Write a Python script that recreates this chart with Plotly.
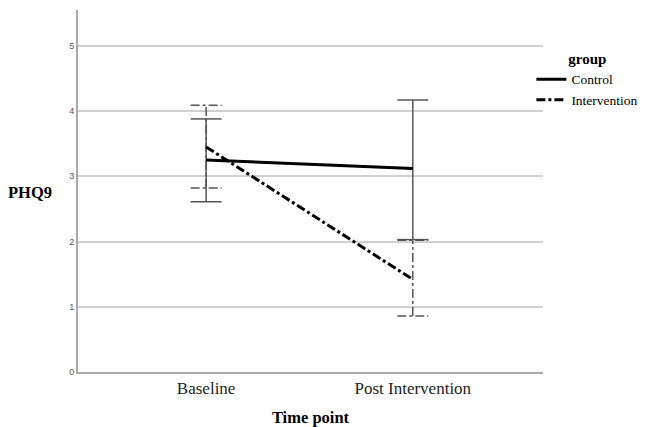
import plotly.graph_objects as go

time_points = ["Baseline", "Post Intervention"]
x_pos = [0, 1]
groups = ["Control", "Intervention"]

control_mean = [3.25, 3.12]
control_low = [2.61, 2.03]
control_high = [3.88, 4.17]

interv_mean = [3.45, 1.42]
interv_low = [2.82, 0.86]
interv_high = [4.09, 2.02]

y_ticks = [0, 1, 2, 3, 4, 5]

SERIF = "Liberation Serif, Times New Roman, serif"
fig = go.Figure()

cap = 0.075
err_col = "#555555"

def err_segments(xs, lows, highs):
    sx, sy = [], []
    for x, lo, hi in zip(xs, lows, highs):
        sx += [x, x, None, x - cap, x + cap, None, x - cap, x + cap, None]
        sy += [lo, hi, None, lo, lo, None, hi, hi, None]
    return sx, sy

# Control error bars (solid)
ex, ey = err_segments(x_pos, control_low, control_high)
fig.add_trace(go.Scatter(x=ex, y=ey, mode="lines", line=dict(color=err_col, width=1.5),
                         showlegend=False, hoverinfo="skip"))
# Intervention error bars (dash-dot)
ex, ey = err_segments(x_pos, interv_low, interv_high)
fig.add_trace(go.Scatter(x=ex, y=ey, mode="lines",
                         line=dict(color=err_col, width=1.5, dash="dashdot"),
                         showlegend=False, hoverinfo="skip"))

fig.add_trace(go.Scatter(x=x_pos, y=control_mean, mode="lines", name=groups[0],
                         line=dict(color="black", width=3)))
fig.add_trace(go.Scatter(x=x_pos, y=interv_mean, mode="lines", name=groups[1],
                         line=dict(color="black", width=3, dash="dashdot")))

fig.update_layout(
    width=646, height=427,
    margin=dict(l=78, r=103, t=10, b=55, autoexpand=False),
    plot_bgcolor="white", paper_bgcolor="white",
    font=dict(family=SERIF, color="black"),
    legend=dict(
        title=dict(text="<b>group</b>", font=dict(family=SERIF, size=15), side="top center"),
        font=dict(family=SERIF, size=13.5),
        x=0.975, xanchor="left", y=0.905, yanchor="top",
        bgcolor="rgba(0,0,0,0)", tracegroupgap=0, itemwidth=30,
    ),
    xaxis=dict(
        range=[-0.62, 1.63], tickvals=x_pos, ticktext=time_points,
        showgrid=False, zeroline=False, showline=True, linecolor="#aaaaaa", linewidth=2,
        tickfont=dict(family=SERIF, size=17, color="#222"), ticks="",
        title=dict(text="<b>Time point</b>", font=dict(family=SERIF, size=16.5), standoff=14),
    ),
    yaxis=dict(
        range=[0, 5.55], tickvals=y_ticks, showgrid=True, gridcolor="#d0d0d0", gridwidth=1.5,
        zeroline=False, showline=True, linecolor="#aaaaaa", linewidth=2, ticks="",
        tickfont=dict(family="Liberation Sans, Arial, sans-serif", size=9, color="#555"),
    ),
    annotations=[dict(text="<b>PHQ9</b>", x=0.0, xref="paper", xanchor="right", xshift=-24,
                      y=3.0, yref="y", yshift=-16, showarrow=False,
                      font=dict(family=SERIF, size=16.5, color="black"))],
)

fig.write_html("out.html", config={"displayModeBar": False},
               post_script="document.body.style.margin='0';")
